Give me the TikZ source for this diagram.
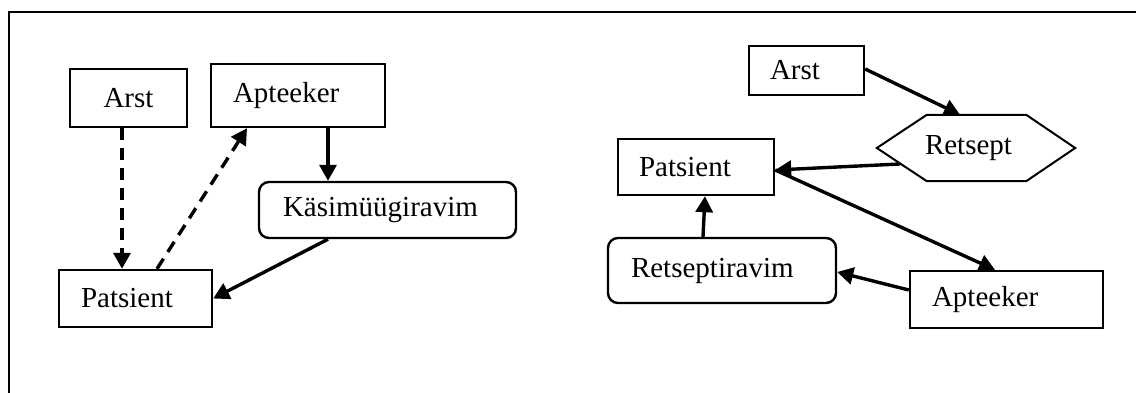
\documentclass[tikz,border=0pt]{standalone}
\usepackage{fontspec}
\setmainfont{Liberation Serif}
\usetikzlibrary{arrows.meta}
\begin{document}
\begin{tikzpicture}[x=1pt,y=-1pt,
  font=\fontsize{29}{34}\selectfont,
  box/.style={draw, line width=2.4pt, inner sep=0pt, align=left},
  roundbox/.style={box, rounded corners=10pt},
  flow/.style={line width=3.4pt, -{Triangle[length=16pt,width=17pt]}},
  dashflow/.style={flow, dash pattern=on 12pt off 8pt}]
\useasboundingbox (0,0) rectangle (1136,393);
% frame
\draw[line width=2.4pt] (1136,12) -- (9,12) -- (9,393);

% left scheme: over-the-counter medicine
\node[box, minimum width=117pt, minimum height=58pt, text width=117pt, align=center] (arstL) at (128.5,98) {Arst};
\node[box, minimum width=174pt, minimum height=63pt, text width=174pt] (aptL) at (298,95.5) {\hspace*{22pt}Apteeker};
\node[roundbox, minimum width=257pt, minimum height=56pt, text width=257pt] (kasL) at (387.5,210) {\hspace*{24pt}Käsimüügiravim};
\node[box, minimum width=153pt, minimum height=57pt, text width=153pt] (patL) at (135.5,298.5) {\hspace*{22pt}Patsient};

\draw[dashflow] ([xshift=-6.5pt]arstL.south) -- ([xshift=-6.5pt]arstL.south |- patL.north);
\draw[dashflow] ([xshift=21.5pt]patL.north) -- ([xshift=-51pt]aptL.south);
\draw[flow] ([xshift=30pt]aptL.south) -- ([xshift=30pt]aptL.south |- kasL.north);
\draw[flow] ([xshift=-59.5pt]kasL.south) -- (patL.east);

% right scheme: prescription medicine
\node[box, minimum width=115pt, minimum height=49pt, text width=115pt] (arstR) at (806.5,70.5) {\hspace*{21pt}Arst};
\node[inner sep=0pt, minimum width=198pt, minimum height=66pt, text width=198pt, align=left] (retsept) at (976,148) {\hspace*{48pt}Retsept};
\draw[line width=2pt] (retsept.west) -- ([xshift=50pt]retsept.north west) -- ([xshift=-49pt]retsept.north east)
  -- (retsept.east) -- ([xshift=-49pt]retsept.south east) -- ([xshift=50pt]retsept.south west) -- cycle;
\node[box, minimum width=156pt, minimum height=56pt, text width=156pt] (patR) at (696,167) {\hspace*{21pt}Patsient};
\node[roundbox, minimum width=228pt, minimum height=65pt, text width=228pt] (retsR) at (722,270.5) {\hspace*{23pt}Retseptiravim};
\node[box, minimum width=193pt, minimum height=57pt, text width=193pt] (aptR) at (1006.5,299.5) {\hspace*{22pt}Apteeker};

\draw[flow] ([yshift=1.5pt]arstR.east) -- ([xshift=-16pt]retsept.north);
\draw[flow] ([xshift=23pt,yshift=-16pt]retsept.west) -- ([yshift=-3pt]patR.east);
\draw[flow] ([yshift=-3pt]patR.east) -- ([xshift=-11.5pt]aptR.north);
\draw[flow] ([yshift=9.5pt]aptR.west) -- ([yshift=-1.5pt]retsR.east);
\draw[flow] ([xshift=-19pt]retsR.north) -- ([xshift=9pt]patR.south);
\end{tikzpicture}
\end{document}
